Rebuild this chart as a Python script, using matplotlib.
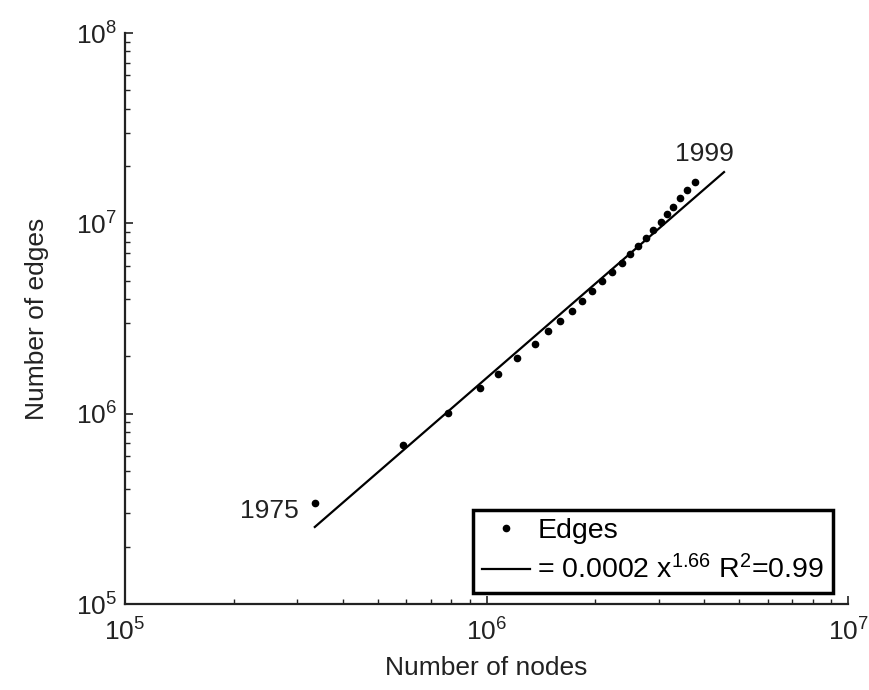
import matplotlib
matplotlib.use("Agg")
import matplotlib.pyplot as plt
from matplotlib.ticker import LogLocator, NullFormatter

plt.rcParams['font.family'] = ['Liberation Sans', 'DejaVu Sans']
plt.rcParams['mathtext.fontset'] = 'custom'
plt.rcParams['mathtext.rm'] = 'Liberation Sans'
plt.rcParams['mathtext.it'] = 'Liberation Sans:italic'
plt.rcParams['mathtext.bf'] = 'Liberation Sans:bold'

# Data (years 1975..1999)
nodes = [335500, 587500, 782800, 959500, 1076000, 1214000, 1362000, 1480000,
         1597000, 1721000, 1834000, 1954000, 2084000, 2221000, 2366000, 2495000,
         2630000, 2762000, 2893000, 3033000, 3151000, 3287000, 3430000, 3580000,
         3775000]
edges = [339500, 684800, 1008500, 1365000, 1617000, 1962000, 2325000, 2720000,
         3070000, 3465000, 3910000, 4387000, 4982000, 5576000, 6217000, 6880000,
         7606000, 8411000, 9234000, 10210000, 11160000, 12240000, 13550000,
         14980000, 16560000]
fit_x = [335000, 4540000]
fit_y = [254000, 18600000]
fit_label = r'= 0.0002 x$^{1.66}$ R$^{2}$=0.99'
first_year, last_year = "1975", "1999"

fig = plt.figure(figsize=(8.7, 6.9), dpi=100)
ax = fig.add_axes([0.1437, 0.1246, 0.831, 0.8275])

ax.plot(nodes, edges, linestyle='none', marker='o', markersize=4.5,
        color='black', label='Edges')
ax.plot(fit_x, fit_y, color='black', lw=1.6, label=fit_label)

ax.set_xscale('log')
ax.set_yscale('log')
ax.set_xlim(1e5, 1e7)
ax.set_ylim(1e5, 1e8)

ax.spines['top'].set_visible(False)
ax.spines['right'].set_visible(False)
for s in ('left', 'bottom'):
    ax.spines[s].set_linewidth(1.6)
    ax.spines[s].set_color('#222222')

ax.xaxis.set_major_locator(LogLocator(base=10, numticks=10))
ax.yaxis.set_major_locator(LogLocator(base=10, numticks=10))
ax.xaxis.set_minor_locator(LogLocator(base=10, subs=range(2, 10), numticks=20))
ax.yaxis.set_minor_locator(LogLocator(base=10, subs=range(2, 10), numticks=20))
ax.xaxis.set_minor_formatter(NullFormatter())
ax.yaxis.set_minor_formatter(NullFormatter())

ax.tick_params(which='major', direction='in', length=6, width=1.2,
               labelsize=19, colors='#222222')
ax.tick_params(which='minor', direction='in', length=3.5, width=1.0,
               colors='#222222')
ax.tick_params(axis='x', which='major', pad=10)
ax.tick_params(axis='y', which='major', pad=6)

ax.set_xlabel('Number of nodes', fontsize=19, color='#222222', labelpad=8)
ax.set_ylabel('Number of edges', fontsize=19, color='#222222', labelpad=19)

ax.annotate(first_year, xy=(nodes[0], edges[0]), xytext=(-12, -6),
            textcoords='offset points', ha='right', va='center', fontsize=19,
            color='#222222')
ax.annotate(last_year, xy=(nodes[-1], edges[-1]), xytext=(7, 11),
            textcoords='offset points', ha='center', va='bottom', fontsize=19,
            color='#222222')

leg = ax.legend(loc='lower right', bbox_to_anchor=(0.979, 0.019),
                fontsize=20.5, frameon=True, fancybox=False, framealpha=1,
                borderpad=0.3, handlelength=1.7, handletextpad=0.25,
                labelspacing=0.4, borderaxespad=0.0)
leg.get_frame().set_edgecolor('black')
leg.get_frame().set_linewidth(2.5)

fig.savefig('out.png', dpi=100)
